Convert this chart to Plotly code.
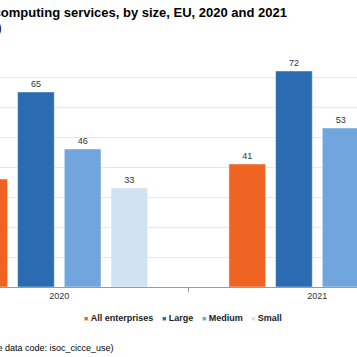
import plotly.graph_objects as go

years = ["2020", "2021"]
series_names = ["All enterprises", "Large", "Medium", "Small"]
all_enterprises = [36, 41]
large = [65, 72]
medium = [46, 53]
small = [33, 38]
series_values = [all_enterprises, large, medium, small]
colors = ["#ef6423", "#2a6bb1", "#70a6dd", "#d1e2f4"]

title_text = "Enterprises buying cloud computing services, by size, EU, 2020 and 2021"
subtitle_text = "(% of enterprises)"
source_text = "Source: Eurostat (online data code: isoc_cicce_use)"

W, H = 357, 357
ML, MR, MT, MB = 0, 0, 47, 70
PH = H - MT - MB

def px_x(px):
    return px / W

def px_y(py):
    return (H - MB - py) / PH

FONT = "Liberation Sans, Arial, sans-serif"

fig = go.Figure()
for name, vals, col in zip(series_names, series_values, colors):
    fig.add_trace(go.Bar(
        x=years, y=vals, name=name,
        marker=dict(color=col, line=dict(color="rgba(255,255,255,0.45)", width=1)),
        text=[str(v) for v in vals], textposition="outside",
        textfont=dict(size=9, color="#333333", family=FONT),
        showlegend=False, hoverinfo="skip",
    ))

annotations = [
    dict(text="<b>" + title_text + "</b>", x=px_x(289), y=px_y(12), xref="paper", yref="paper",
         xanchor="right", yanchor="middle", showarrow=False,
         font=dict(size=13, color="#000000", family=FONT)),
    dict(text=subtitle_text, x=px_x(4), y=px_y(28.5), xref="paper", yref="paper",
         xanchor="right", yanchor="middle", showarrow=False,
         font=dict(size=12, color="#000000", family=FONT)),
    dict(text=source_text, x=px_x(116), y=px_y(348), xref="paper", yref="paper",
         xanchor="right", yanchor="middle", showarrow=False,
         font=dict(size=9, color="#000000", family=FONT)),
]
legend_x = [82, 160, 199.5, 249]
for name, col, lx in zip(series_names, colors, legend_x):
    annotations.append(dict(
        text='<span style="color:%s;font-size:7px">■</span> <b>%s</b>' % (col, name),
        x=px_x(lx), y=px_y(318), xref="paper", yref="paper",
        xanchor="left", yanchor="middle", showarrow=False,
        font=dict(size=9, color="#222222", family=FONT)))

fig.update_layout(
    width=W, height=H,
    margin=dict(l=ML, r=MR, t=MT, b=MB, pad=0),
    paper_bgcolor="white", plot_bgcolor="white",
    barmode="group", bargap=0.276, bargroupgap=0.214,
    font=dict(family=FONT, size=9, color="#333333"),
    annotations=annotations,
    showlegend=False,
    hovermode=False,
    xaxis=dict(type="category", range=[-0.2298, 1.1539], showline=True, linecolor="#9a9a9a",
               linewidth=1, ticks="outside", tickson="boundaries", ticklen=4, tickcolor="#9a9a9a",
               showgrid=False, tickfont=dict(size=9, color="#333333")),
    yaxis=dict(range=[0, 80], dtick=10, showgrid=True, gridcolor="#e8e8e8", gridwidth=1,
               showticklabels=False, zeroline=False, showline=False),
)

fig.write_html(
    "out.html",
    config={"displayModeBar": False, "staticPlot": True},
    post_script="document.body.style.margin='0';document.body.style.overflow='hidden';",
)
